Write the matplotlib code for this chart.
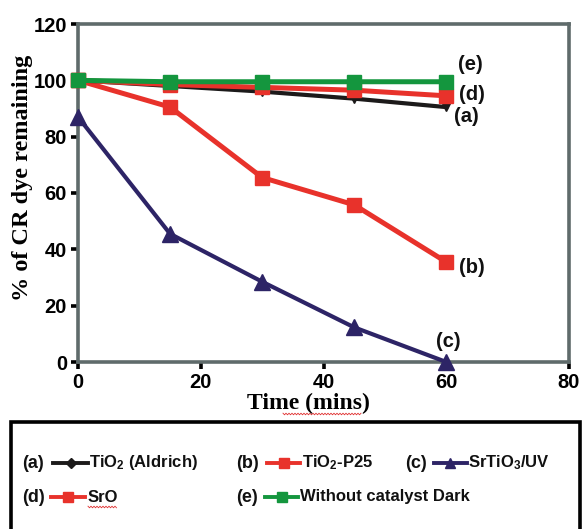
import matplotlib
matplotlib.use("Agg")
import matplotlib.pyplot as plt
import numpy as np
from matplotlib.lines import Line2D
from matplotlib.patches import Rectangle

plt.rcParams['mathtext.fontset'] = 'custom'
plt.rcParams['mathtext.rm'] = 'Liberation Sans:bold'
plt.rcParams['mathtext.bf'] = 'Liberation Sans:bold'
plt.rcParams['mathtext.default'] = 'rm'

# ---- data ----
time = [0, 15, 30, 45, 60]
tio2_aldrich = [100, 98, 96, 93.5, 90.5]
tio2_p25 = [100, 90.5, 65.5, 55.8, 35.5]
srtio3_uv = [87, 45.5, 28.5, 12.3, 0]
sro = [100, 98.5, 97.5, 96.5, 94.5]
no_catalyst = [100, 99.5, 99.5, 99.5, 99.5]

xticks = [0, 20, 40, 60, 80]
yticks = [0, 20, 40, 60, 80, 100, 120]

C_BLACK = '#1c1a1a'
C_RED = '#e8322b'
C_NAVY = '#2d2466'
C_GREEN = '#14963e'

W, H = 584, 529
fig = plt.figure(figsize=(W / 100, H / 100), dpi=100)
fig.patch.set_facecolor('white')

def fx(px):
    return px / W

def fy(py):
    return 1 - py / H

ax = fig.add_axes([fx(78), fy(362), fx(569) - fx(78), fy(24) - fy(362)])
ax.set_xlim(0, 80)
ax.set_ylim(0, 120)

ax.plot(time, srtio3_uv, color=C_NAVY, lw=3.0, marker='^', ms=11, clip_on=False, zorder=3)
ax.plot(time, tio2_p25, color=C_RED, lw=3.6, marker='s', ms=10, clip_on=False, zorder=3)
ax.plot(time, tio2_aldrich, color=C_BLACK, lw=3.0, marker='v', ms=6, clip_on=False, zorder=4)
ax.plot(time, sro, color=C_RED, lw=3.6, marker='s', ms=10, clip_on=False, zorder=5)
ax.plot(time, no_catalyst, color=C_GREEN, lw=3.6, marker='s', ms=10, clip_on=False, zorder=6)

ann_font = dict(fontfamily='Liberation Sans', fontweight='bold', fontsize=14.5,
                ha='center', va='center', color='#111111')
ax.text(63.9, 105.6, '(e)', **ann_font)
ax.text(64.2, 95.1, '(d)', **ann_font)
ax.text(63.2, 87.0, '(a)', **ann_font)
ax.text(64.2, 33.4, '(b)', **ann_font)
ax.text(60.3, 7.3, '(c)', **ann_font)

for s in ax.spines.values():
    s.set_color('#5f6b6b')
    s.set_linewidth(2.6)

ax.set_xticks(xticks)
ax.set_yticks(yticks)
ax.tick_params(direction='out', length=5, width=2.6, color='black', pad=3,
               top=False, right=False)
for lab in ax.get_xticklabels() + ax.get_yticklabels():
    lab.set_fontfamily('Liberation Sans')
    lab.set_fontweight('bold')
    lab.set_fontsize(14.5)

fig.text(fx(308), fy(403), 'Time (mins)', fontfamily='Liberation Serif',
         fontweight='bold', fontsize=17, ha='center', va='center')
fig.text(fx(23), fy(178), '% of CR dye remaining', fontfamily='Liberation Serif',
         fontweight='bold', fontsize=17.5, ha='center', va='center', rotation=90)

def squiggle(x0, x1, y):
    xs = np.arange(x0, x1 + 0.1, 1.5)
    ys = y + np.where(np.arange(len(xs)) % 2 == 0, -0.8, 0.8)
    fig.add_artist(Line2D(fx(xs), fy(ys), transform=fig.transFigure,
                          color='#e03030', lw=0.6))

squiggle(283, 362, 414)
squiggle(88, 117, 507)

# ---- legend box ----
box = Rectangle((fx(11), fy(545)), fx(580) - fx(11), fy(422) - fy(545),
                transform=fig.transFigure, fill=False, edgecolor='black',
                linewidth=2.6, clip_on=False)
fig.add_artist(box)

tag_font = dict(fontfamily='Liberation Sans', fontweight='bold', fontsize=13,
                va='center', color='#111111')
leg_font = dict(fontfamily='Liberation Sans', fontweight='bold', fontsize=12,
                va='center', color='#111111')

def entry(tag_x, line_x0, line_x1, label_x, y, tag, label, color, marker, ms, lw):
    fig.text(fx(tag_x), fy(y), tag, ha='left', **tag_font)
    fig.add_artist(Line2D([fx(line_x0), fx(line_x1)], [fy(y), fy(y)],
                          transform=fig.transFigure, color=color, lw=lw))
    fig.add_artist(Line2D([fx((line_x0 + line_x1) / 2)], [fy(y)],
                          transform=fig.transFigure, color=color, marker=marker,
                          ms=ms, lw=0))
    fig.text(fx(label_x), fy(y), label, ha='left', **leg_font)

entry(22, 53, 88, 89, 463, '(a)', r'TiO$_2$ (Aldrich)', C_BLACK, 'D', 5, 2.8)
entry(236, 267, 300, 302, 463, '(b)', r'TiO$_2$-P25', C_RED, 's', 7, 2.8)
entry(405, 434, 467, 468, 463, '(c)', r'SrTiO$_3$/UV', C_NAVY, '^', 7, 2.8)
entry(22, 51, 85, 88, 497, '(d)', 'SrO', C_RED, 's', 7, 2.8)
entry(236, 265, 298, 300, 497, '(e)', 'Without catalyst Dark', C_GREEN, 's', 7, 2.8)

fig.savefig('out.png', dpi=100, facecolor='white')
